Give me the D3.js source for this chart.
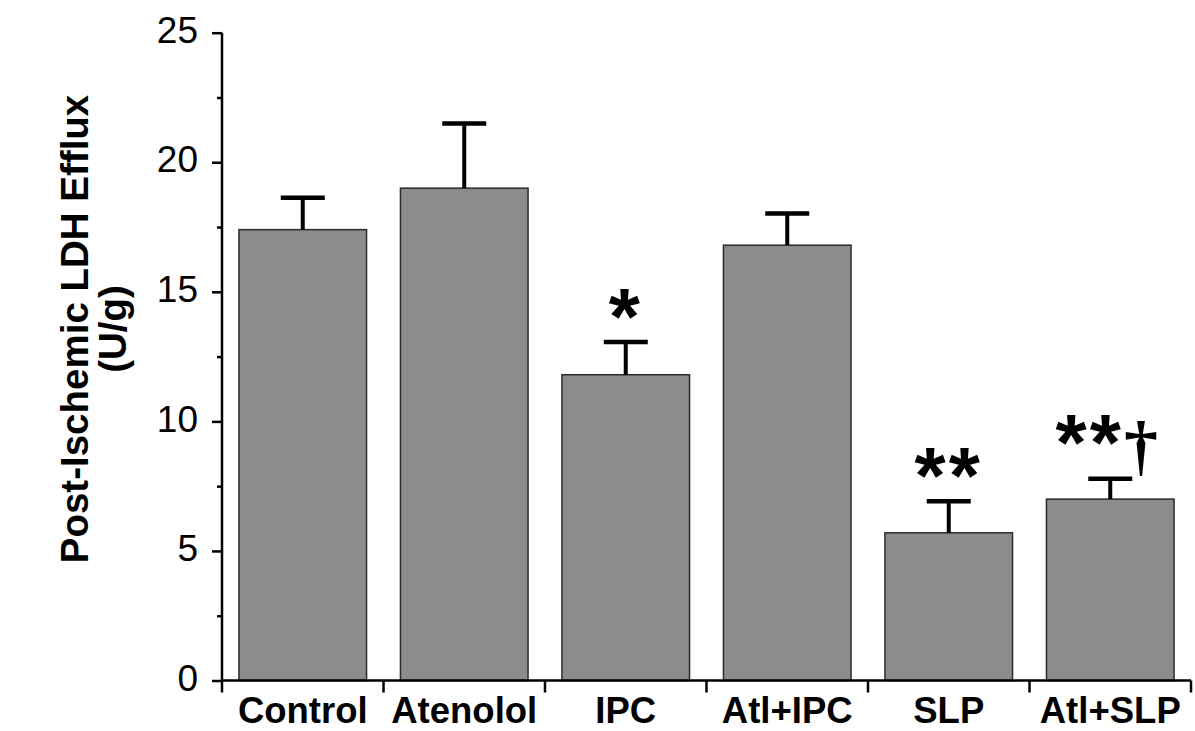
<!DOCTYPE html>
<html>
<head>
<meta charset="utf-8">
<script src="https://cdn.jsdelivr.net/npm/d3@7"></script>
<style>
  html, body { margin: 0; padding: 0; background: #fff; }
  svg { display: block; }
</style>
</head>
<body>
<svg id="chart" width="1195" height="731"></svg>
<script>
// ---- data ----
const categories = ["Control", "Atenolol", "IPC", "Atl+IPC", "SLP", "Atl+SLP"];
const means      = [17.4, 19.0, 11.8, 16.8, 5.7, 7.0];
const sems       = [1.23, 2.5, 1.26, 1.22, 1.22, 0.79];
const marks      = ["", "", "*", "", "**", "**†"];
const yTicks     = [0, 5, 10, 15, 20, 25];
const yMinorTicks = [2.5, 7.5, 12.5, 17.5, 22.5];
const yLabelLines = ["Post-Ischemic LDH Efflux", "(U/g)"];

// ---- layout ----
const svg = d3.select("#chart");
const x0 = 222, x1 = 1191, yBottom = 680.5, yTop = 32.7;

const x = d3.scaleBand().domain(categories).range([x0, x1]).paddingInner(0.21).paddingOuter(0.105);
const xb = d3.scaleBand().domain(categories).range([x0, x1]).padding(0);
const y = d3.scaleLinear().domain([0, 25]).range([yBottom, yTop]);

const g = svg.append("g");

// bars
g.selectAll("rect.bar").data(categories).enter().append("rect")
  .attr("class", "bar")
  .attr("x", d => x(d))
  .attr("width", x.bandwidth())
  .attr("y", (d, i) => y(means[i]))
  .attr("height", (d, i) => y(0) - y(means[i]))
  .attr("fill", "#8c8c8c")
  .attr("stroke", "#2a2a2a")
  .attr("stroke-width", 1.5);

// error bars (upper only)
const capW = 44;
categories.forEach((c, i) => {
  const cx = x(c) + x.bandwidth() / 2;
  g.append("line")
    .attr("x1", cx).attr("x2", cx)
    .attr("y1", y(means[i])).attr("y2", y(means[i] + sems[i]))
    .attr("stroke", "#000").attr("stroke-width", 4);
  g.append("line")
    .attr("x1", cx - capW / 2).attr("x2", cx + capW / 2)
    .attr("y1", y(means[i] + sems[i])).attr("y2", y(means[i] + sems[i]))
    .attr("stroke", "#000").attr("stroke-width", 4.5);
});

// y axis
const yAxis = d3.axisLeft(y).tickValues(yTicks).tickSize(10).tickPadding(14).tickFormat(d3.format("d"));
const ya = svg.append("g").attr("transform", `translate(${x0},0)`).call(yAxis);
ya.select(".domain").attr("stroke", "#000").attr("stroke-width", 2.5)
  .attr("d", `M0,${yTop}V${yBottom}`);
ya.selectAll(".tick line").attr("stroke", "#000").attr("stroke-width", 2.5);
ya.selectAll(".tick text")
  .attr("font-family", "Liberation Sans, Arial, sans-serif")
  .attr("font-size", 37).attr("fill", "#000").attr("dy", "0.26em");

const yMinor = d3.axisLeft(y).tickValues(yMinorTicks).tickSize(5).tickFormat("");
const ym = svg.append("g").attr("transform", `translate(${x0},0)`).call(yMinor);
ym.select(".domain").remove();
ym.selectAll(".tick line").attr("stroke", "#000").attr("stroke-width", 2.5);

// x axis
const xAxis = d3.axisBottom(x).tickSize(0).tickPadding(17);
const xa = svg.append("g").attr("transform", `translate(0,${yBottom})`).call(xAxis);
xa.select(".domain").attr("stroke", "#000").attr("stroke-width", 2.5)
  .attr("d", `M${x0},0H${x1}`);
xa.selectAll(".tick text")
  .attr("font-family", "Liberation Sans, Arial, sans-serif")
  .attr("font-weight", "bold")
  .attr("font-size", 36.5).attr("fill", "#000").attr("dy", "0.71em");

// x boundary ticks
const bounds = categories.map(c => xb(c)).concat([x1]);
svg.append("g").selectAll("line").data(bounds).enter().append("line")
  .attr("x1", d => d).attr("x2", d => d)
  .attr("y1", yBottom).attr("y2", yBottom + 12)
  .attr("stroke", "#000").attr("stroke-width", 2.5);

// significance marks
categories.forEach((c, i) => {
  const m = marks[i];
  if (!m) return;
  const cx = x(c) + x.bandwidth() / 2;
  const hasDagger = m.includes("†");
  const yc = y(means[i] + sems[i]) - (hasDagger ? 51 : 40);
  const stars = m.replace("†", "");
  const t = svg.append("text")
    .attr("x", cx + (hasDagger ? -2 : 0))
    .attr("y", yc + 42)
    .attr("text-anchor", "middle")
    .attr("font-family", "Liberation Sans, Arial, sans-serif")
    .attr("font-weight", "bold")
    .attr("font-size", 80)
    .attr("letter-spacing", 3)
    .attr("fill", "#000");
  t.append("tspan").text(stars);
  if (hasDagger) {
    t.append("tspan").attr("font-family", "Liberation Serif, serif").attr("font-size", 68).attr("dy", -2).text("†");
  }
});

// y label
const yl = svg.append("text")
  .attr("transform", `translate(0,329) rotate(-90)`)
  .attr("text-anchor", "middle")
  .attr("font-family", "Liberation Sans, Arial, sans-serif")
  .attr("font-weight", "bold")
  .attr("font-size", 38.5)
  .attr("fill", "#000");
yl.selectAll("tspan").data(yLabelLines).enter().append("tspan")
  .attr("x", 0)
  .attr("y", (d, i) => 88 + i * 38)
  .text(d => d);
</script>
</body>
</html>
